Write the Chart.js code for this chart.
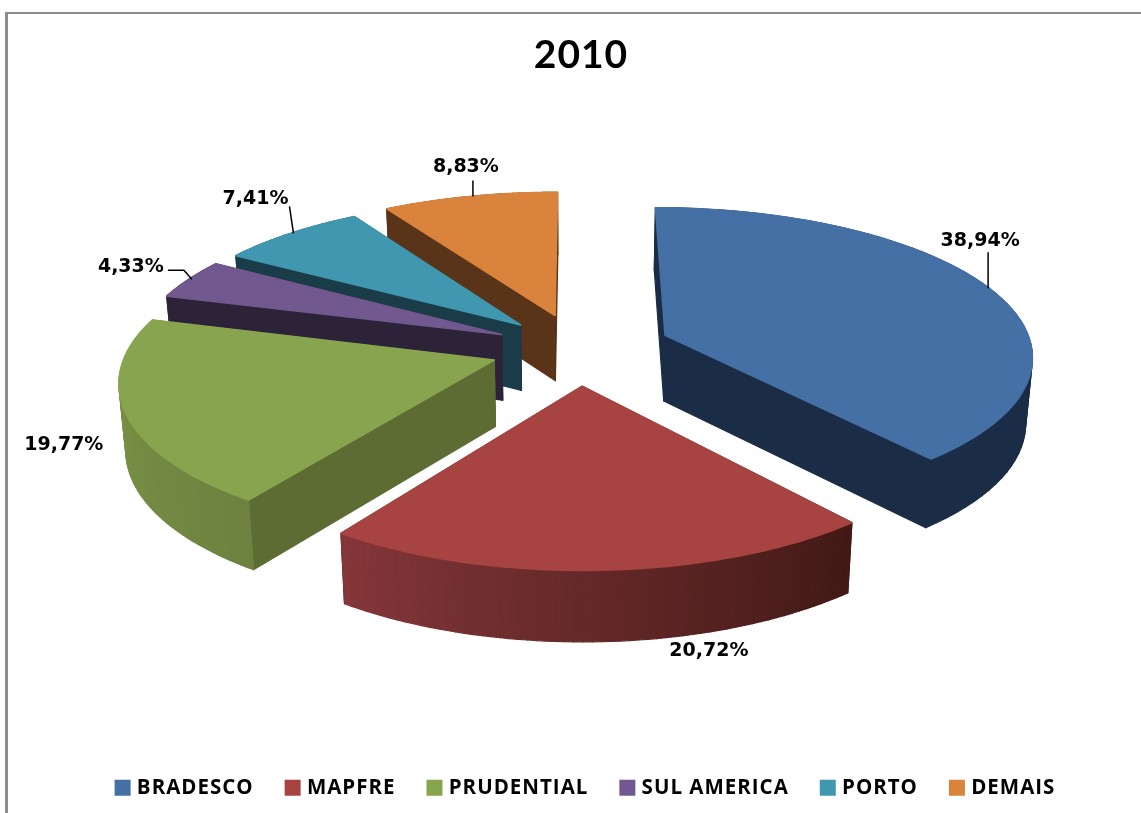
<!DOCTYPE html>
<html>
<head>
<meta charset="utf-8">
<title>2010</title>
<script src="https://cdn.jsdelivr.net/npm/chart.js@4"></script>
<style>
    html, body { margin: 0; padding: 0; background: #fff; overflow: hidden; }
    #frame { position: absolute; left: 5px; top: 12px; right: 0; bottom: 0; border-left: 3px solid #8c8c8c; border-top: 2px solid #8c8c8c; }
    canvas { position: absolute; left: 0; top: 0; }
</style>
</head>
<body>
<div id="frame"></div>
<canvas id="pieChart" width="1141" height="813"></canvas>
<script>
const categories = ['BRADESCO', 'MAPFRE', 'PRUDENTIAL', 'SUL AMERICA', 'PORTO', 'DEMAIS'];
const shares = [38.94, 20.72, 19.77, 4.33, 7.41, 8.83];

const topColors = ['#4470a5', '#a74442', '#89a44e', '#71588f', '#4197af', '#da833c'];
const cutColors = ['#1b2d46', '#451a17', '#5c6c32', '#2d2339', '#1a3c49', '#5a3418'];
const wallStart = ['#1b2d46', '#421916', '#6e8240', '#2d2339', '#1a3c49', '#5a3418'];
const wallEnd = ['#1b2d46', '#85373a', '#7f9a48', '#2d2339', '#1a3c49', '#5a3418'];

// how far each slice is pulled out of the pie, in radii
const explode = [0.255, 0.25, 0.24, 0.23, 0.225, 0.235];

// label position relative to the middle of each slice's rim
const labelOffsets = [[-9, -47], [107, 81], [-62, 32], [-58, -12], [-35, -34], [-4, -29]];
const leaderOffsets = [[[-1, 0], [-1, -36]], null, null, [[3, 0], [-5, -9], [-21, -9]], [[3, 0], [-1, -27]], [[3, 0], [3, -16]]];

// fake 3D camera for the pie
const view = { cx: 578, cy: 348, rx: 367, ry: 148, perspY: 0.135, perspX: 0.125, depth: 66, depthPersp: 0.4, shrink: 0.015 };

function project(u, v, z) {
    const ky = 1 / (1 - view.perspY * v);
    const kx = 1 / (1 - view.perspX * v);
    return {
        x: view.cx + view.rx * u * kx * (1 - view.shrink * z),
        y: view.cy + view.ry * v * ky + view.depth * (1 + view.depthPersp * (ky - 1)) * z
    };
}

function hexMix(a, b, t) {
    const pa = [1, 3, 5].map(i => parseInt(a.substr(i, 2), 16));
    const pb = [1, 3, 5].map(i => parseInt(b.substr(i, 2), 16));
    const c = pa.map((n, i) => Math.round(n + (pb[i] - n) * t));
    return `rgb(${c[0]},${c[1]},${c[2]})`;
}

function fillPoly(ctx, pts, color, line) {
    ctx.beginPath();
    pts.forEach((p, i) => i ? ctx.lineTo(p.x, p.y) : ctx.moveTo(p.x, p.y));
    ctx.closePath();
    ctx.fillStyle = color;
    ctx.strokeStyle = color;
    ctx.lineWidth = line;
    ctx.lineJoin = 'round';
    ctx.fill();
    ctx.stroke();
}

function sliceGeometry(arc, i) {
    const start = arc.startAngle + Math.PI / 2;
    const end = arc.endAngle + Math.PI / 2;
    const mid = (start + end) / 2;
    return {
        start, end, mid,
        ou: explode[i] * Math.sin(mid),
        ov: -explode[i] * Math.cos(mid)
    };
}

function drawSlice(ctx, arc, i) {
    const g = sliceGeometry(arc, i);
    const rim = [];
    const steps = 60;
    for (let s = 0; s <= steps; s++) {
        const t = g.start + (g.end - g.start) * s / steps;
        rim.push({ t: s / steps, u: g.ou + Math.sin(t), v: g.ov - Math.cos(t) });
    }
    const apex = { u: g.ou, v: g.ov };
    const faces = [];
    const quad = (a, b, color) => faces.push({
        depth: (a.v + b.v) / 2,
        pts: [project(a.u, a.v, 0), project(b.u, b.v, 0), project(b.u, b.v, 1), project(a.u, a.v, 1)],
        color
    });
    quad(apex, rim[0], cutColors[i]);
    quad(apex, rim[steps], cutColors[i]);
    for (let s = 0; s < steps; s++) {
        quad(rim[s], rim[s + 1], hexMix(wallStart[i], wallEnd[i], rim[s].t));
    }
    faces.sort((a, b) => a.depth - b.depth);
    faces.forEach(f => fillPoly(ctx, f.pts, f.color, 1.2));
    const top = [apex].concat(rim).map(p => project(p.u, p.v, 0));
    fillPoly(ctx, top, topColors[i], 1.6);
}

const pie3d = {
    id: 'pie3d',
    beforeLayout(chart) {
        chart.ctx.letterSpacing = '1px';
    },
    afterLayout(chart) {
        // the legend sits a little right of the title in the original
        chart.legend.left += 6;
        chart.legend.right += 6;
    },
    beforeDatasetDraw(chart, args) {
        const ctx = chart.ctx;
        const arcs = chart.getDatasetMeta(args.index).data;
        const order = arcs.map((arc, i) => i)
            .sort((a, b) => sliceGeometry(arcs[a], a).ov - sliceGeometry(arcs[b], b).ov);
        ctx.save();
        order.forEach(i => drawSlice(ctx, arcs[i], i));
        arcs.forEach((arc, i) => {
            const g = sliceGeometry(arc, i);
            const p = project(g.ou + Math.sin(g.mid), g.ov - Math.cos(g.mid), 0);
            if (leaderOffsets[i]) {
                ctx.beginPath();
                leaderOffsets[i].forEach((o, n) => n ? ctx.lineTo(p.x + o[0], p.y + o[1]) : ctx.moveTo(p.x + o[0], p.y + o[1]));
                ctx.strokeStyle = '#000';
                ctx.lineWidth = 1.5;
                ctx.stroke();
            }
            ctx.font = 'bold 19px "DejaVu Sans"';
            ctx.letterSpacing = '0px';
            ctx.fillStyle = '#000';
            ctx.textAlign = 'center';
            ctx.textBaseline = 'middle';
            ctx.fillText(shares[i].toFixed(2).replace('.', ',') + '%', p.x + labelOffsets[i][0], p.y + labelOffsets[i][1]);
        });
        ctx.restore();
        return false;
    }
};

new Chart(document.getElementById('pieChart'), {
    type: 'pie',
    data: {
        labels: categories,
        datasets: [{
            data: shares,
            backgroundColor: topColors,
            borderColor: topColors,
            borderWidth: 8   // legend swatch grows by this, keeps the text close to the box
        }]
    },
    options: {
        responsive: false,
        animation: false,
        layout: { padding: { left: 21, bottom: 5, top: 0 } },
        plugins: {
            tooltip: { enabled: false },
            title: {
                display: true,
                text: '2010',
                color: '#000',
                font: { family: 'Lato', size: 39, weight: 'bold' },
                padding: { top: 32, bottom: 10 }
            },
            legend: {
                position: 'bottom',
                labels: {
                    color: '#000',
                    font: { family: '"Open Sans"', size: 20.5, weight: 'bold' },
                    boxWidth: 8,
                    boxHeight: 8,
                    padding: 35
                }
            }
        }
    },
    plugins: [pie3d]
});
</script>
</body>
</html>
